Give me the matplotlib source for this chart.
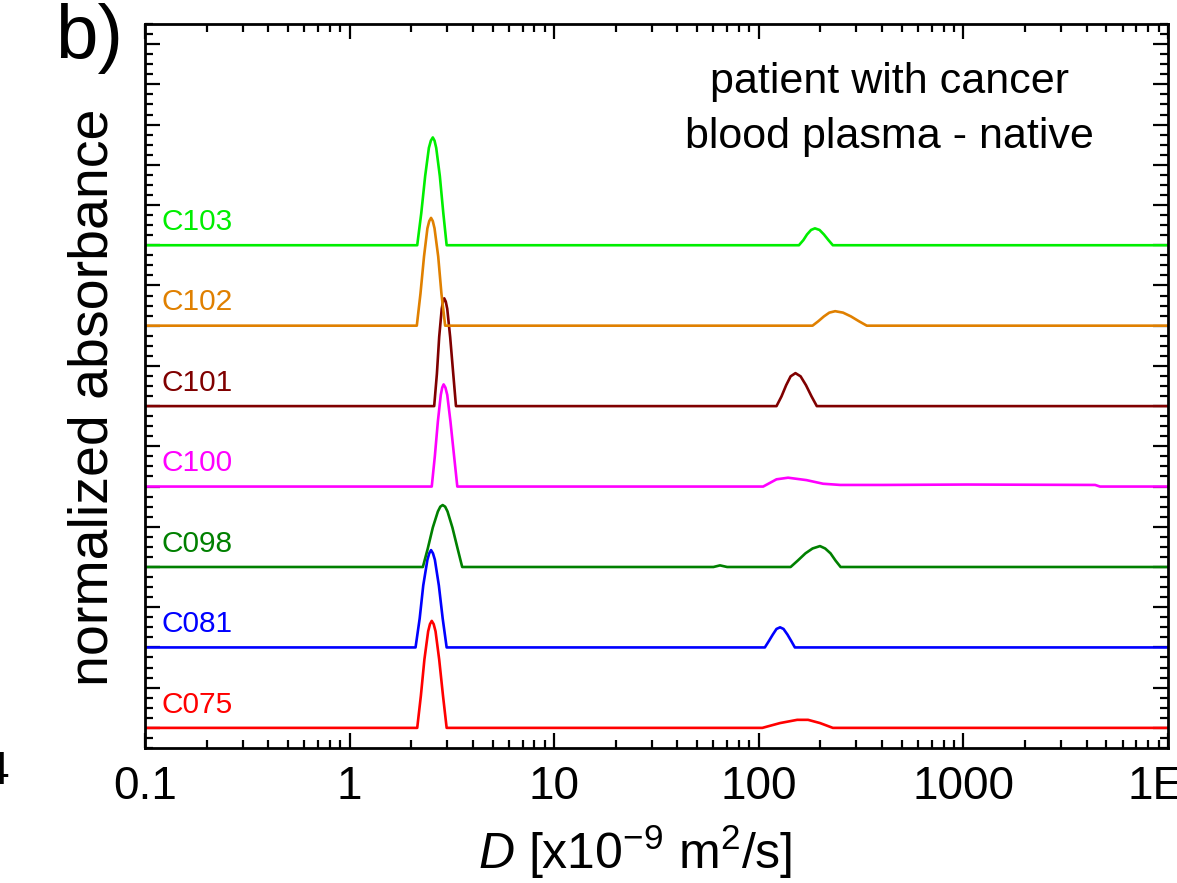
import numpy as np
import matplotlib.pyplot as plt
from matplotlib.ticker import FixedLocator, FixedFormatter, MultipleLocator, LogLocator, NullFormatter

plt.rcParams['font.family'] = ['Liberation Sans', 'DejaVu Sans']
plt.rcParams['mathtext.fontset'] = 'custom'
plt.rcParams['mathtext.rm'] = 'Liberation Sans'
plt.rcParams['mathtext.it'] = 'Liberation Sans:italic'

# samples, bottom to top
labels = ['C075', 'C081', 'C098', 'C100', 'C101', 'C102', 'C103']
colors = ['#ff0000', '#0000ff', '#008000', '#ff00ff', '#800000', '#e08000', '#00ee00']

# D values [x10^-9 m2/s] and normalized absorbance
d_c075 = [0.1, 2.14, 2.23, 2.32, 2.42, 2.47, 2.52, 2.575, 2.63, 2.74, 2.86, 2.98,
          104, 127, 154, 174, 199, 230, 10000]
a_c075 = [0, 0, 0.40, 0.85, 1.20, 1.29, 1.33, 1.29, 1.20, 0.85, 0.40, 0,
          0, 0.06, 0.10, 0.10, 0.06, 0, 0]

d_c081 = [0.1, 2.10, 2.20, 2.29, 2.40, 2.45, 2.50, 2.555, 2.61, 2.73, 2.85, 2.98,
          107, 112, 117, 122, 127, 132, 138, 144, 150, 10000]
a_c081 = [0, 0, 0.36, 0.77, 1.09, 1.17, 1.21, 1.17, 1.09, 0.77, 0.36, 0,
          0, 0.08, 0.16, 0.23, 0.25, 0.23, 0.16, 0.08, 0, 0]

d_c098 = [0.1, 2.28, 2.41, 2.55, 2.70, 2.775, 2.85, 2.93, 3.01, 3.18, 3.37, 3.55, 60, 64.6, 70,
          143, 155, 169, 183, 199, 211, 224, 237, 251, 10000]
a_c098 = [0, 0, 0.23, 0.49, 0.69, 0.75, 0.77, 0.75, 0.69, 0.49, 0.23, 0, 0, 0.02, 0,
          0, 0.08, 0.17, 0.23, 0.26, 0.23, 0.17, 0.08, 0, 0]

d_c100 = [0.1, 2.52, 2.61, 2.70, 2.79, 2.835, 2.88, 2.94, 3.00, 3.11, 3.24, 3.36,
          105, 122, 139, 171, 206, 250, 405, 1040, 4400, 4650, 10000]
a_c100 = [0, 0, 0.38, 0.81, 1.14, 1.23, 1.27, 1.23, 1.14, 0.81, 0.38, 0,
          0, 0.09, 0.11, 0.08, 0.035, 0.02, 0.02, 0.025, 0.02, 0, 0]

d_c101 = [0.1, 2.59, 2.67, 2.74, 2.82, 2.86, 2.90, 2.95, 3.00, 3.10, 3.21, 3.31,
          122, 129, 136, 143, 151, 160, 170, 181, 192, 10000]
a_c101 = [0, 0, 0.40, 0.86, 1.21, 1.30, 1.34, 1.30, 1.21, 0.86, 0.40, 0,
          0, 0.12, 0.26, 0.37, 0.41, 0.37, 0.26, 0.12, 0, 0]

d_c102 = [0.1, 2.13, 2.22, 2.31, 2.40, 2.45, 2.50, 2.55, 2.60, 2.71, 2.81, 2.93,
          183, 195, 208, 221, 236, 258, 282, 309, 337, 10000]
a_c102 = [0, 0, 0.40, 0.86, 1.21, 1.30, 1.34, 1.30, 1.21, 0.86, 0.40, 0,
          0, 0.054, 0.115, 0.162, 0.18, 0.162, 0.115, 0.054, 0, 0]

d_c103 = [0.1, 2.14, 2.24, 2.34, 2.44, 2.495, 2.55, 2.60, 2.65, 2.76, 2.87, 2.98,
          157, 165, 172, 180, 188, 198, 208, 219, 230, 10000]
a_c103 = [0, 0, 0.40, 0.86, 1.21, 1.30, 1.34, 1.30, 1.21, 0.86, 0.40, 0,
          0, 0.063, 0.134, 0.19, 0.21, 0.19, 0.134, 0.063, 0, 0]

d_all = [d_c075, d_c081, d_c098, d_c100, d_c101, d_c102, d_c103]
a_all = [a_c075, a_c081, a_c098, a_c100, a_c101, a_c102, a_c103]
offsets = [0, 1, 2, 3, 4, 5, 6]

xticks = [0.1, 1, 10, 100, 1000, 10000]
xticklabels = ['0.1', '1', '10', '100', '1000', '1E4']

fig = plt.figure(figsize=(11.77, 8.83), dpi=100)
ax = fig.add_axes([0.1232, 0.1529, 0.8692, 0.8199])

for d, a, off, c, lab in zip(d_all, a_all, offsets, colors, labels):
    ax.plot(d, np.array(a) + off, color=c, lw=1.9, solid_joinstyle='round')
    ax.text(0.12, off + 0.19, lab, color=c, fontsize=21.5, va='baseline', ha='left')

ax.set_xscale('log')
ax.set_xlim(0.1, 10000)
ax.set_ylim(-0.25, 8.75)

ax.xaxis.set_major_locator(FixedLocator(xticks))
ax.xaxis.set_major_formatter(FixedFormatter(xticklabels))
ax.xaxis.set_minor_locator(LogLocator(base=10, subs=np.arange(2, 10)))
ax.xaxis.set_minor_formatter(NullFormatter())
ax.yaxis.set_major_locator(MultipleLocator(0.5))
ax.yaxis.set_minor_locator(MultipleLocator(0.125))
ax.yaxis.set_major_formatter(NullFormatter())

ax.tick_params(which='both', direction='in', top=True, right=True, width=1.6, colors='black')
ax.tick_params(which='major', length=11)
ax.tick_params(which='minor', length=6)
ax.tick_params(axis='x', which='major', labelsize=33, pad=12)
for s in ax.spines.values():
    s.set_linewidth(2.0)

ax.set_xlabel(r'$\mathit{D}$ [x10$^{-9}$ m$^{2}$/s]', fontsize=36)
ax.xaxis.set_label_coords(0.479, -0.104)
ax.set_ylabel('normalized absorbance', fontsize=40)
ax.yaxis.set_label_coords(-0.025, 0.485)

ax.text(0.728, 0.948, 'patient with cancer\nblood plasma - native', transform=ax.transAxes,
        ha='center', va='top', fontsize=31, linespacing=1.5)

fig.text(0.047, 0.997, 'b)', fontsize=55, ha='left', va='top')
# clipped tick label of the neighbouring panel
fig.text(0.009, 0.126, '1E4', fontsize=33, ha='right', va='center')

fig.savefig('out.png', dpi=100)
